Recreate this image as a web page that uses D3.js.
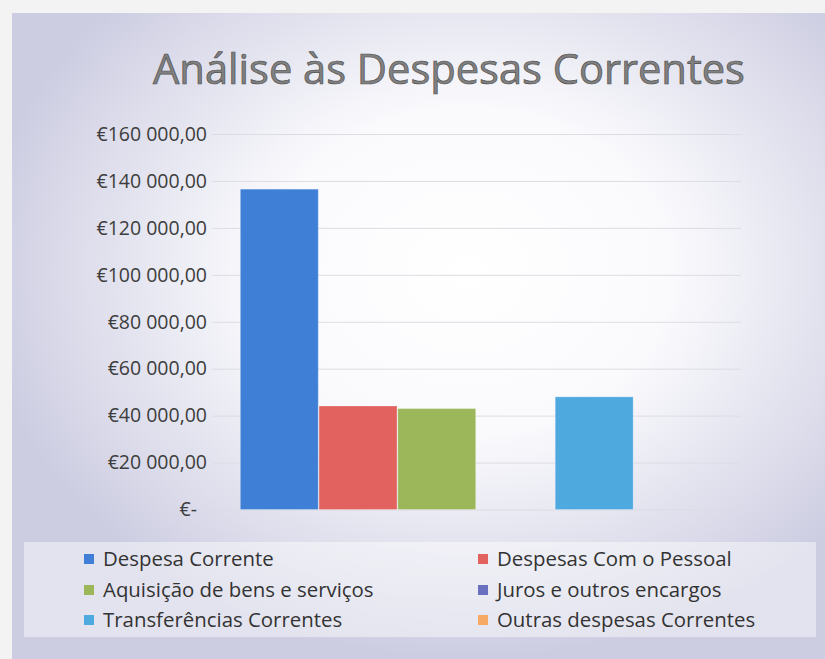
<!DOCTYPE html>
<html>
<head>
<meta charset="utf-8">
<script src="https://cdn.jsdelivr.net/npm/d3@7"></script>
<style>
  body { margin: 0; background: #f3f3f3; }
  svg { display: block; }
</style>
</head>
<body>
<svg id="chart"></svg>
<script>
const categoria = ["Despesas Correntes"];
const series = [
  "Despesa Corrente",
  "Despesas Com o Pessoal",
  "Aquisição de bens e serviços",
  "Juros e outros encargos",
  "Transferências Correntes",
  "Outras despesas Correntes"
];
const valores = [136500, 44100, 43000, 0, 48000, 0];
const cores = ["#3f80d6", "#e2625f", "#9cb75a", "#6a70c0", "#4ea9de", "#f6a865"];
const yTicks = [0, 20000, 40000, 60000, 80000, 100000, 120000, 140000, 160000];

const width = 825, height = 659;
const plotLeft = 212, plotRight = 741, plotTop = 134, plotBottom = 509.5;

var svg = d3.select("#chart").attr("width", width).attr("height", height);

var defs = svg.append("defs");
var grad = defs.append("radialGradient")
  .attr("id", "fundo")
  .attr("cx", 0.56).attr("cy", 0.4).attr("r", 0.6);
grad.append("stop").attr("offset", "0").attr("stop-color", "#ffffff");
grad.append("stop").attr("offset", "0.42").attr("stop-color", "#fafafd");
grad.append("stop").attr("offset", "1").attr("stop-color", "#cdcde2");

// chart area
svg.append("rect")
  .attr("x", 12).attr("y", 13)
  .attr("width", width - 12).attr("height", height - 13)
  .attr("fill", "url(#fundo)");

var fmt = d3.formatLocale({
  decimal: ",", thousands: " ", grouping: [3], currency: ["€", ""]
}).format("$,.2f");

var y = d3.scaleLinear().domain([0, 160000]).range([plotBottom, plotTop]);
var x0 = d3.scaleBand().domain(categoria).range([plotLeft, plotRight])
  .paddingInner(0).paddingOuter(0.06);
var x1 = d3.scaleBand().domain(series).range([0, x0.bandwidth()]).padding(0);
var color = d3.scaleOrdinal().domain(series).range(cores);

var yAxis = d3.axisLeft(y)
  .tickValues(yTicks)
  .tickSize(-(plotRight - plotLeft))
  .tickPadding(5)
  .tickFormat(function (d) { return d === 0 ? "€-" : fmt(d); });

var gy = svg.append("g")
  .attr("transform", "translate(" + plotLeft + ",0)")
  .call(yAxis);
gy.select(".domain").remove();
gy.selectAll(".tick line").attr("stroke", "#dcdce4").attr("stroke-width", 1);
gy.selectAll(".tick text")
  .attr("fill", "#3d3d3d")
  .style("font-family", "'Open Sans', sans-serif")
  .style("font-size", "19.5px")
  .attr("dx", function (d) { return d === 0 ? -10 : 0; });

var data = series.map(function (s, i) { return { serie: s, valor: valores[i] }; });

svg.append("g")
  .selectAll("g")
  .data(categoria)
  .enter()
  .append("g")
  .attr("transform", function (d) { return "translate(" + x0(d) + ",0)"; })
  .selectAll("rect")
  .data(data.filter(function (d) { return d.valor > 0; }))
  .enter()
  .append("rect")
  .attr("x", function (d) { return x1(d.serie); })
  .attr("y", function (d) { return y(d.valor); })
  .attr("width", x1.bandwidth() - 0.8)
  .attr("height", function (d) { return y(0) - y(d.valor); })
  .attr("fill", function (d) { return color(d.serie); })
  .attr("stroke", "#ffffff")
  .attr("stroke-opacity", 0.25)
  .attr("stroke-width", 1);

// title
var title = svg.append("text")
  .attr("x", 449)
  .attr("y", 84)
  .attr("text-anchor", "middle")
  .style("font-family", "'Open Sans', sans-serif")
  .style("font-size", "40px")
  .attr("fill", "#808080")
  .attr("stroke", "#505050")
  .attr("stroke-width", 0.7)
  .text("Análise às Despesas Correntes");
var tw = title.node().getComputedTextLength();
title.style("font-size", (40 * 592 / tw) + "px");

// legend
svg.append("rect")
  .attr("x", 24).attr("y", 542)
  .attr("width", 792).attr("height", 95)
  .attr("fill", "#ffffff")
  .attr("fill-opacity", 0.45);

var legendPos = [
  [84, 559], [478, 559],
  [84, 590], [478, 590],
  [84, 620], [478, 620]
];

var leg = svg.append("g")
  .selectAll("g")
  .data(series)
  .enter()
  .append("g")
  .attr("transform", function (d, i) {
    return "translate(" + legendPos[i][0] + "," + legendPos[i][1] + ")";
  });

leg.append("rect")
  .attr("x", 0).attr("y", -5)
  .attr("width", 10).attr("height", 10)
  .attr("fill", function (d) { return color(d); });

leg.append("text")
  .attr("x", 19)
  .attr("y", 0)
  .attr("dy", "0.35em")
  .attr("fill", "#333333")
  .style("font-family", "'Open Sans', sans-serif")
  .style("font-size", "20.4px")
  .text(function (d) { return d; });
</script>
</body>
</html>
